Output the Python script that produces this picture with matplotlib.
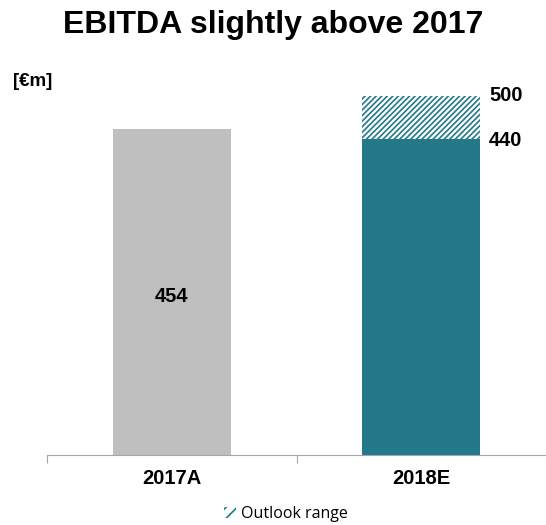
import matplotlib.pyplot as plt
from matplotlib.patches import Patch
import matplotlib as mpl

mpl.rcParams['font.family'] = ['Liberation Sans', 'DejaVu Sans']
mpl.rcParams['hatch.linewidth'] = 1.2

# data
categories = ['2017A', '2018E']
ebitda_base = [454, 440]
outlook_range = [0, 60]   # 2018E upper end 500
bar_labels = ['454', '']
teal = '#23788A'
grey = '#BFBFBF'

fig = plt.figure(figsize=(5.46, 5.25), dpi=100)
ax = fig.add_axes([47 / 546, 70 / 525, 1 - 47 / 546, (455 - 70) / 525])

x = [0, 1]
ax.bar(x, ebitda_base, width=0.472, color=[grey, teal], zorder=2)
ax.bar(x, outlook_range, bottom=ebitda_base, width=0.472, color='white',
       edgecolor=teal, hatch='//////', linewidth=0, zorder=2)

ax.set_xlim(-0.5, (546 - 47) / 254 - 0.5)
ax.set_ylim(0, 536)

ax.text(0, ebitda_base[0] / 2 - 7, bar_labels[0], ha='center', va='center',
        fontsize=14.5, fontweight='bold')
top = ebitda_base[1] + outlook_range[1]
ax.text(1.272, top, str(top), ha='left', va='center', fontsize=14.5, fontweight='bold')
ax.text(1.272, ebitda_base[1] - 2, str(ebitda_base[1]), ha='left', va='center',
        fontsize=14.5, fontweight='bold')

for s in ['top', 'right', 'left']:
    ax.spines[s].set_visible(False)
ax.spines['bottom'].set_color('#A6A6A6')
ax.set_yticks([])
ax.set_xticks([-0.5, 0.5, 1.5])
ax.set_xticklabels([])
ax.tick_params(axis='x', length=6, color='#A6A6A6', direction='out')
ax.set_xticks(x, minor=True)
ax.set_xticklabels(categories, minor=True, fontsize=14.5, fontweight='bold')
ax.tick_params(axis='x', which='minor', length=0, pad=10)

fig.text(0.5, 1 - 25 / 525, 'EBITDA slightly above 2017', ha='center', va='center',
         fontsize=23, fontweight='bold')
fig.text(13 / 546, 1 - 81 / 525, '[€m]', ha='left', va='center', fontsize=13.5,
         fontweight='bold')

handle = Patch(facecolor='white', edgecolor=teal, hatch='///', linewidth=0)
fig.legend([handle], ['Outlook range'], loc='center',
           bbox_to_anchor=(286 / 546, 1 - 514 / 525),
           frameon=False, handlelength=0.75, handleheight=0.75,
           handletextpad=0.3, prop={'family': ['Open Sans', 'DejaVu Sans'], 'size': 11.5})

fig.savefig('out.png', dpi=100)
